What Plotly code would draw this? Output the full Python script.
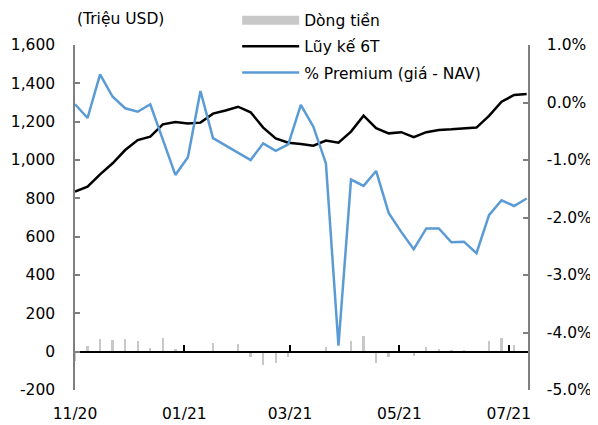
import pandas as pd
import plotly.graph_objects as go

dates = pd.date_range("2020-11-01", periods=37, freq="7D")

dong_tien = [-50, 30, 66, 61, 66, 56, 18, 70, 12, -5, 0, 47, 0, 40, -26, -70, -57, -30,
             -5, -5, 26, -7, 57, 82, -61, -26, -5, -22, 24, 14, 8, 5, 0, 56, 73, 35, 0]

luy_ke_6t = [835, 861, 925, 983, 1052, 1104, 1122, 1186, 1198, 1191, 1195, 1242, 1258,
             1278, 1249, 1169, 1113, 1090, 1084, 1075, 1101, 1090, 1148, 1231, 1166, 1139,
             1145, 1119, 1145, 1157, 1160, 1166, 1169, 1230, 1304, 1339, 1344]

premium = [-0.03, -0.27, 0.49, 0.10, -0.10, -0.16, -0.03, -0.65, -1.26, -0.95, 0.20, -0.62,
           -0.75, -0.87, -1.00, -0.71, -0.84, -0.73, -0.04, -0.42, -1.06, -4.23, -1.34,
           -1.45, -1.19, -1.92, -2.25, -2.55, -2.19, -2.19, -2.43, -2.42, -2.62, -1.96,
           -1.70, -1.80, -1.67]

tick_dates = ["2020-11-01", "2021-01-01", "2021-03-01", "2021-05-01", "2021-07-01"]
tick_text = ["11/20", "01/21", "03/21", "05/21", "07/21"]
left_ticks = list(range(-200, 1601, 200))
left_text = [f"{v:,}" for v in left_ticks]
right_ticks = [1, 0, -1, -2, -3, -4, -5]
right_text = [f"{v:.1f}%" for v in right_ticks]

FONT = "DejaVu Sans"
FS = 15.5
xr = ["2020-11-01", "2021-07-11 18:00"]

fig = go.Figure()
fig.add_trace(go.Bar(x=dates, y=dong_tien, xaxis="x2", yaxis="y", marker_color="#C8C8C8",
                     marker_line_width=0, width=1.3 * 86400000, showlegend=False,
                     name="Dòng tiền"))
# legend proxy for bars
fig.add_trace(go.Scatter(x=[None], y=[None], mode="lines", line=dict(color="#C8C8C8", width=9),
                         name="Dòng tiền", legendgroup="a"))
fig.add_trace(go.Scatter(x=dates, y=luy_ke_6t, mode="lines", line=dict(color="black", width=2.5),
                         name="Lũy kế 6T", legendgroup="b"))
fig.add_trace(go.Scatter(x=dates, y=premium, yaxis="y2", mode="lines",
                         line=dict(color="#5B9BD5", width=2.5),
                         name="% Premium (giá - NAV)", legendgroup="c"))

fig.update_layout(
    width=590, height=417,
    margin=dict(l=67, r=70, t=37, b=35, pad=0, autoexpand=False),
    paper_bgcolor="white", plot_bgcolor="white",
    font=dict(family=FONT, size=FS, color="black"),
    showlegend=True,
    bargap=0,
    legend=dict(x=0.358, y=1.12, xanchor="left", yanchor="top", bgcolor="rgba(0,0,0,0)",
                traceorder="grouped", tracegroupgap=3, font=dict(size=FS, family=FONT),
                itemwidth=57),
    xaxis=dict(type="date", range=xr, tickvals=tick_dates, ticktext=tick_text,
               showline=False, ticks="", showgrid=False, zeroline=False,
               ticklabelstandoff=12),
    xaxis2=dict(type="date", range=xr, overlaying="x", anchor="free", position=200 / 1800,
                tickvals=tick_dates, showticklabels=False, showline=True, linecolor="black",
                linewidth=1.5, ticks="inside", ticklen=6, tickwidth=1.5, tickcolor="black",
                showgrid=False, zeroline=False),
    yaxis=dict(range=[-200, 1600], tickvals=left_ticks, ticktext=left_text, showgrid=False,
               zeroline=False, showline=True, linecolor="#7F7F7F", linewidth=1.5,
               ticks="inside", ticklen=5, tickcolor="#7F7F7F", tickwidth=1.5,
               ticklabelstandoff=15),
    yaxis2=dict(range=[-5, 1], overlaying="y", side="right", anchor="x",
                tickvals=right_ticks, ticktext=right_text, showgrid=False,
                zeroline=False, showline=True, linecolor="#7F7F7F", linewidth=1.5,
                ticks="inside", ticklen=5, tickcolor="#7F7F7F", tickwidth=1.5,
                ticklabelstandoff=14),
    annotations=[dict(text="(Triệu USD)", xref="paper", yref="paper", x=0.0, y=1.075,
                      xanchor="left", yanchor="middle", showarrow=False,
                      font=dict(size=FS, family=FONT))],
)

fig.write_html("out.html")
